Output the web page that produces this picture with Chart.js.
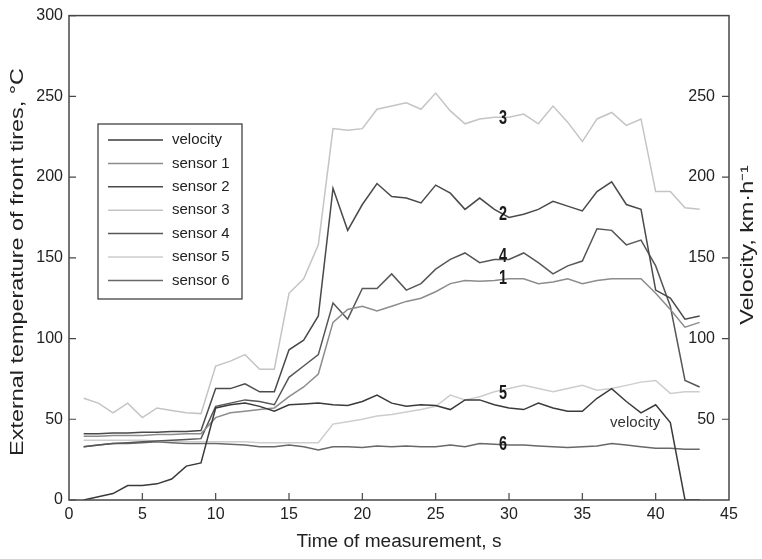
<!DOCTYPE html>
<html>
<head>
<meta charset="utf-8">
<script src="https://cdn.jsdelivr.net/npm/chart.js@4"></script>
<style>
  html, body { margin: 0; padding: 0; background: #fff; }
  #wrap { width: 762px; height: 559px; }
</style>
</head>
<body>
<div id="wrap"><canvas id="myChart" width="762" height="559"></canvas></div>
<script>
// time of measurement, s
let times = [1, 2, 3, 4, 5, 6, 7, 8, 9, 10, 11, 12, 13, 14, 15, 16, 17, 18, 19, 20, 21, 22,
  23, 24, 25, 26, 27, 28, 29, 30, 31, 32, 33, 34, 35, 36, 37, 38, 39, 40, 41, 42, 43];

// velocity, km/h (right axis)
let velocity = [0, 2, 4, 9, 9, 10, 13, 21, 23, 57, 59, 60, 58, 55, 59, 59.5, 60, 59, 58.5, 61,
  65, 60, 58, 59, 58.5, 56, 62, 62, 59, 57, 56, 60, 57, 55, 55, 63, 69, 61, 54, 59, 48, 0, 0];

// tire temperatures, °C
let sensor1 = [39.5, 39.5, 40, 40, 40, 40.5, 40.5, 41, 41, 51, 54, 55, 56, 57, 64, 70, 78,
  110, 118, 120, 117, 120, 123, 125, 129, 134, 136, 135.5, 136, 137, 137, 134, 135, 137, 134,
  136, 137, 137, 137, 128, 118, 107, 110];
let sensor2 = [41, 41, 41.5, 41.5, 42, 42, 42.5, 42.5, 43, 69, 69, 72, 67, 67, 93, 99, 114,
  193, 167, 183, 196, 188, 187, 184, 195, 190, 180, 187, 180, 175, 177, 180, 185, 182, 179,
  191, 197, 183, 180, 130, 125, 112, 114];
let sensor3 = [63, 60, 54, 60, 51, 57, 55.5, 54, 53.5, 83, 86, 90, 81, 81, 128, 137, 158,
  230, 229, 230, 242, 244, 246, 242, 252, 241, 233, 236, 237, 237, 239, 233, 244, 234, 222,
  236, 240, 232, 236, 191, 191, 181, 180];
let sensor4 = [33, 34, 35, 35.5, 36, 36.5, 37, 37.5, 38, 58, 60, 62, 61, 59, 76, 83, 90,
  122, 112, 131, 131, 140, 130, 134, 143, 149, 153, 147, 149, 149, 153, 147, 140, 145, 148,
  168, 167, 158, 161, 145, 120, 74, 70];
let sensor5 = [37, 37, 37, 37, 37, 36.5, 36.5, 36, 36, 36, 36, 36, 35.5, 35.5, 35.5, 35.5, 35.5,
  47, 48.5, 50, 52, 53, 54.5, 56, 58, 65, 62, 64, 67, 69, 71, 69, 67, 69, 71,
  68, 69, 71, 73, 74, 66, 67, 67];
let sensor6 = [33, 34, 35, 35, 35.5, 36, 35.5, 35, 35, 35, 34.5, 34, 33, 33, 34, 33, 31,
  33, 33, 32.5, 33.5, 33, 33.5, 33, 33, 34, 33, 35, 34.5, 34, 34, 33.5, 33, 32.5, 33,
  33.5, 35, 34, 33, 32, 32, 31.5, 31.5];

let seriesNames = ["velocity", "sensor 1", "sensor 2", "sensor 3", "sensor 4", "sensor 5", "sensor 6"];
let seriesColors = ["#3a3a3a", "#8c8c8c", "#4a4a4a", "#c4c4c4", "#575757", "#cdcdcd", "#686868"];

let xTicks = [0, 5, 10, 15, 20, 25, 30, 35, 40, 45];
let tempTicks = [0, 50, 100, 150, 200, 250, 300];
let velTicks = [50, 100, 150, 200, 250];

// curve labels: [text, time, value]
let curveLabels = [
  ["3", 29.6, 236], ["2", 29.6, 177], ["4", 29.6, 151], ["1", 29.6, 137],
  ["5", 29.6, 66], ["6", 29.6, 34]
];

const FONT = '"Liberation Sans", Arial, sans-serif';

function points(values) {
  return times.map((t, i) => ({ x: t, y: values[i] }));
}

let allValues = [velocity, sensor1, sensor2, sensor3, sensor4, sensor5, sensor6];
let datasets = allValues.map((vals, i) => ({
  label: seriesNames[i],
  data: points(vals),
  borderColor: seriesColors[i],
  backgroundColor: seriesColors[i],
  borderWidth: 1.5,
  pointRadius: 0,
  fill: false,
  tension: 0,
  yAxisID: i == 0 ? "y2" : "y",
}));

// text stretched along its own direction (the original figure is a bit elongated)
function stretchedText(c, text, x, y, angle, sx) {
  c.save();
  c.translate(x, y);
  c.rotate(angle);
  c.scale(sx, 1);
  c.fillText(text, 0, 0);
  c.restore();
}

// white background, frame, inward ticks, right axis labels, titles, legend, curve labels
const decor = {
  id: "decor",
  beforeDraw(chart) {
    const c = chart.ctx;
    c.save();
    c.fillStyle = "#fff";
    c.fillRect(0, 0, chart.width, chart.height);
    c.restore();
  },
  afterDraw(chart) {
    const c = chart.ctx;
    const a = chart.chartArea;
    const xs = chart.scales.x, ys = chart.scales.y, y2 = chart.scales.y2;
    c.save();
    // frame
    c.strokeStyle = "#474747";
    c.lineWidth = 1.5;
    c.strokeRect(a.left, a.top, a.right - a.left, a.bottom - a.top);
    // inward ticks
    c.lineWidth = 1.2;
    c.beginPath();
    xTicks.forEach(v => {
      if (v == 0 || v == 45) return;
      let px = xs.getPixelForValue(v);
      c.moveTo(px, a.bottom); c.lineTo(px, a.bottom - 7);
    });
    tempTicks.forEach(v => {
      let py = ys.getPixelForValue(v);
      c.moveTo(a.left, py); c.lineTo(a.left + 7, py);
    });
    velTicks.forEach(v => {
      let py = y2.getPixelForValue(v);
      c.moveTo(a.right, py); c.lineTo(a.right - 7, py);
    });
    c.stroke();
    // right axis labels (inside the frame)
    c.fillStyle = "#222";
    c.font = "16px " + FONT;
    c.textAlign = "right";
    c.textBaseline = "middle";
    velTicks.forEach(v => {
      c.fillText(String(v), a.right - 14, y2.getPixelForValue(v));
    });
    // axis titles
    c.font = "18px " + FONT;
    c.textAlign = "center";
    stretchedText(c, "Time of measurement, s", (a.left + a.right) / 2, 542, 0, 1.06);
    stretchedText(c, "External temperature of front tires, °C", 18, 262, -Math.PI / 2, 1.3);
    stretchedText(c, "Velocity, km·h\u207B\u00B9", 748, 245, -Math.PI / 2, 1.3);
    // curve labels
    c.font = "bold 17px " + FONT;
    c.fillStyle = "#1a1a1a";
    curveLabels.forEach(l => {
      c.save();
      c.translate(xs.getPixelForValue(l[1]), ys.getPixelForValue(l[2]));
      c.scale(0.85, 1.15);
      c.fillText(l[0], 0, 0);
      c.restore();
    });
    c.font = "15px " + FONT;
    c.fillStyle = "#333";
    c.fillText("velocity", xs.getPixelForValue(38.6), y2.getPixelForValue(48));
    // legend box
    const lx = 98, ly = 124, lw = 144, lh = 175;
    c.fillStyle = "#fff";
    c.fillRect(lx, ly, lw, lh);
    c.strokeStyle = "#333";
    c.lineWidth = 1.2;
    c.strokeRect(lx, ly, lw, lh);
    c.font = "15px " + FONT;
    c.textAlign = "left";
    seriesNames.forEach((name, i) => {
      let y = ly + 16 + i * 23.4;
      c.strokeStyle = seriesColors[i];
      c.lineWidth = 1.5;
      c.beginPath();
      c.moveTo(lx + 10, y); c.lineTo(lx + 65, y);
      c.stroke();
      c.fillStyle = "#222";
      c.fillText(name, lx + 74, y);
    });
    c.restore();
  }
};

let ctx = document.getElementById("myChart").getContext("2d");

var chart = new Chart(ctx, {
  type: "line",
  data: { datasets: datasets },
  options: {
    responsive: false,
    animation: false,
    layout: { padding: { top: 13, right: 33, left: 0, bottom: 0 } },
    plugins: { legend: { display: false }, tooltip: { enabled: false } },
    scales: {
      x: {
        type: "linear",
        min: 0,
        max: 45,
        grid: { display: false, drawTicks: false },
        border: { display: false },
        afterBuildTicks: (s) => { s.ticks = xTicks.map(v => ({ value: v })); },
        afterFit: (s) => { s.height = 59; },
        ticks: { color: "#222", padding: 5, maxRotation: 0, font: { size: 16, family: FONT } },
      },
      y: {
        min: 0,
        max: 300,
        grid: { display: false, drawTicks: false },
        border: { display: false },
        afterBuildTicks: (s) => { s.ticks = tempTicks.map(v => ({ value: v })); },
        afterFit: (s) => { s.width = 69; },
        ticks: { color: "#222", padding: 6, font: { size: 16, family: FONT } },
      },
      y2: {
        display: false,
        position: "right",
        min: 0,
        max: 300,
      },
    },
  },
  plugins: [decor],
});
</script>
</body>
</html>
